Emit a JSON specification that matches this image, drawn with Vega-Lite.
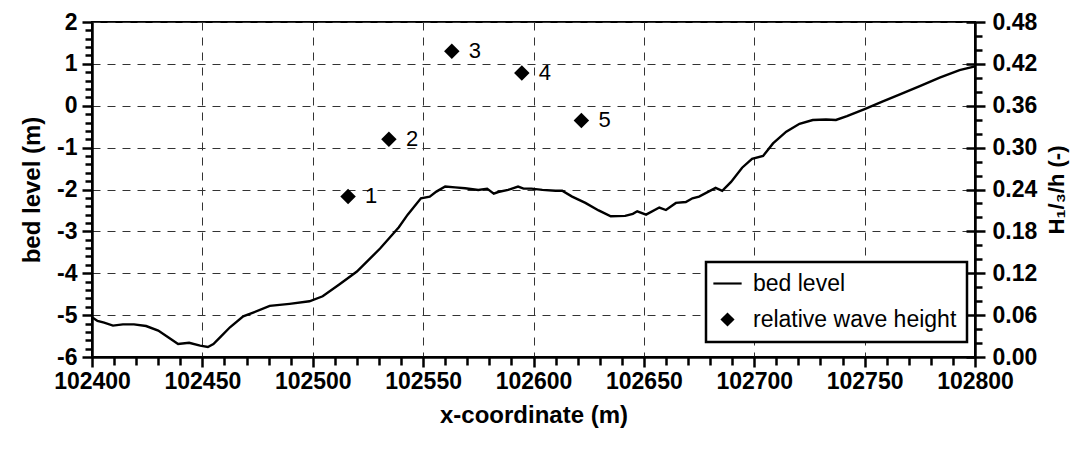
{
  "$schema": "https://vega.github.io/schema/vega-lite/v6.json",
  "width": 883,
  "height": 335,
  "autosize": "none",
  "padding": {"left": 92, "top": 22, "right": 105, "bottom": 96},
  "background": "white",
  "config": {
    "font": "Liberation Sans",
    "view": {"stroke": "black", "strokeWidth": 2},
    "axis": {
      "labelFont": "Liberation Sans",
      "labelFontWeight": "bold",
      "labelFontSize": 23,
      "labelColor": "black",
      "ticks": true,
      "tickColor": "black",
      "tickWidth": 2.5,
      "tickOpacity": 1,
      "domainColor": "black",
      "domainWidth": 2.5,
      "titleFont": "Liberation Sans",
      "titleFontWeight": "bold",
      "titleFontSize": 24,
      "titleColor": "black",
      "gridColor": "#333333",
      "gridDash": [8, 7],
      "gridWidth": 1,
      "labelFlush": false,
      "labelOverlap": false
    },
    "legend": {
      "strokeColor": "black",
      "strokeWidth": 2.5,
      "fillColor": "white",
      "padding": 10
    }
  },
  "datasets": {
    "bed": [
      {"x": 102400, "bed": -5.05},
      {"x": 102402.5, "bed": -5.14},
      {"x": 102405.5, "bed": -5.18},
      {"x": 102409.5, "bed": -5.25},
      {"x": 102414, "bed": -5.22},
      {"x": 102419, "bed": -5.22},
      {"x": 102424.5, "bed": -5.26},
      {"x": 102430, "bed": -5.37},
      {"x": 102434.5, "bed": -5.53},
      {"x": 102439, "bed": -5.69},
      {"x": 102444, "bed": -5.66},
      {"x": 102449, "bed": -5.73},
      {"x": 102452.5, "bed": -5.76},
      {"x": 102455, "bed": -5.69},
      {"x": 102458, "bed": -5.53},
      {"x": 102462.5, "bed": -5.29},
      {"x": 102468.5, "bed": -5.03},
      {"x": 102473, "bed": -4.94},
      {"x": 102480.5, "bed": -4.78},
      {"x": 102489.5, "bed": -4.73},
      {"x": 102498.5, "bed": -4.67},
      {"x": 102504.5, "bed": -4.55},
      {"x": 102512, "bed": -4.27},
      {"x": 102520, "bed": -3.96},
      {"x": 102530.5, "bed": -3.41},
      {"x": 102539, "bed": -2.9},
      {"x": 102543, "bed": -2.6},
      {"x": 102549, "bed": -2.21},
      {"x": 102553, "bed": -2.17},
      {"x": 102556, "bed": -2.05},
      {"x": 102560, "bed": -1.93},
      {"x": 102564.5, "bed": -1.95},
      {"x": 102569, "bed": -1.97},
      {"x": 102575, "bed": -2.01},
      {"x": 102579, "bed": -1.98},
      {"x": 102582, "bed": -2.1},
      {"x": 102584, "bed": -2.06},
      {"x": 102588.5, "bed": -2.01},
      {"x": 102593, "bed": -1.93},
      {"x": 102595.5, "bed": -1.98},
      {"x": 102599, "bed": -1.98},
      {"x": 102604, "bed": -2.01},
      {"x": 102610, "bed": -2.03},
      {"x": 102613, "bed": -2.03},
      {"x": 102617.5, "bed": -2.17},
      {"x": 102623.5, "bed": -2.32},
      {"x": 102629.5, "bed": -2.5},
      {"x": 102635, "bed": -2.64},
      {"x": 102641.5, "bed": -2.63},
      {"x": 102645, "bed": -2.58},
      {"x": 102647, "bed": -2.52},
      {"x": 102651, "bed": -2.6},
      {"x": 102657, "bed": -2.43},
      {"x": 102660, "bed": -2.49},
      {"x": 102664.5, "bed": -2.32},
      {"x": 102669, "bed": -2.3},
      {"x": 102672, "bed": -2.21},
      {"x": 102675, "bed": -2.17},
      {"x": 102682.5, "bed": -1.96},
      {"x": 102685.5, "bed": -2.03},
      {"x": 102689.5, "bed": -1.82},
      {"x": 102694.5, "bed": -1.48},
      {"x": 102699, "bed": -1.27},
      {"x": 102704, "bed": -1.2},
      {"x": 102708.5, "bed": -0.9},
      {"x": 102714.5, "bed": -0.62},
      {"x": 102720.5, "bed": -0.43},
      {"x": 102726.5, "bed": -0.34},
      {"x": 102732.5, "bed": -0.33},
      {"x": 102737, "bed": -0.34},
      {"x": 102742, "bed": -0.25},
      {"x": 102750, "bed": -0.08},
      {"x": 102758, "bed": 0.1},
      {"x": 102766, "bed": 0.27},
      {"x": 102775, "bed": 0.47},
      {"x": 102784, "bed": 0.67},
      {"x": 102793, "bed": 0.85},
      {"x": 102800, "bed": 0.94}
    ],
    "waves": [
      {"x": 102516, "H": 0.23, "label": "1", "series": "relative wave height"},
      {"x": 102534.5, "H": 0.312, "label": "2", "series": "relative wave height"},
      {"x": 102563, "H": 0.438, "label": "3", "series": "relative wave height"},
      {"x": 102594.7, "H": 0.407, "label": "4", "series": "relative wave height"},
      {"x": 102621.7, "H": 0.339, "label": "5", "series": "relative wave height"}
    ]
  },
  "layer": [
    {
      "data": {"name": "bed"},
      "mark": {"type": "line", "color": "black", "strokeWidth": 2.4},
      "encoding": {
        "x": {
          "field": "x", "type": "quantitative",
          "scale": {"domain": [102400, 102800], "nice": false, "zero": false},
          "axis": {
            "orient": "bottom",
            "values": [102400, 102410, 102420, 102430, 102440, 102450, 102460, 102470, 102480, 102490, 102500, 102510, 102520, 102530, 102540, 102550, 102560, 102570, 102580, 102590, 102600, 102610, 102620, 102630, 102640, 102650, 102660, 102670, 102680, 102690, 102700, 102710, 102720, 102730, 102740, 102750, 102760, 102770, 102780, 102790, 102800],
            "labelExpr": "datum.value % 50 === 0 ? '' + datum.value : ''",
            "tickSize": {"condition": {"test": "datum.value % 50 === 0", "value": 10}, "value": 8},
            "gridOpacity": {"condition": {"test": "datum.value % 50 === 0", "value": 1}, "value": 0},
            "labelPadding": 3,
            "grid": true,
            "title": "x-coordinate (m)",
            "titlePadding": 10
          }
        },
        "y": {
          "field": "bed", "type": "quantitative",
          "scale": {"domain": [-6, 2], "nice": false, "zero": false},
          "axis": {
            "orient": "left",
            "values": [-6, -5.8, -5.6, -5.4, -5.2, -5, -4.8, -4.6, -4.4, -4.2, -4, -3.8, -3.6, -3.4, -3.2, -3, -2.8, -2.6, -2.4, -2.2, -2, -1.8, -1.6, -1.4, -1.2, -1, -0.8, -0.6, -0.4, -0.2, 0, 0.2, 0.4, 0.6, 0.8, 1, 1.2, 1.4, 1.6, 1.8, 2],
            "labelExpr": "abs(datum.value - round(datum.value)) < 0.01 ? '' + round(datum.value) : ''",
            "tickSize": {"condition": {"test": "abs(datum.value - round(datum.value)) < 0.01", "value": 10}, "value": 7},
            "gridOpacity": {"condition": {"test": "abs(datum.value - round(datum.value)) < 0.01", "value": 1}, "value": 0},
            "labelPadding": 5,
            "grid": true,
            "title": "bed level (m)",
            "titlePadding": 12
          }
        }
      }
    },
    {
      "data": {"name": "waves"},
      "mark": {"type": "point", "filled": true, "size": 240, "color": "black", "opacity": 1},
      "encoding": {
        "x": {"field": "x", "type": "quantitative", "axis": null},
        "y": {
          "field": "H", "type": "quantitative",
          "scale": {"domain": [0, 0.48], "nice": false, "zero": false},
          "axis": {
            "orient": "right",
            "values": [0, 0.02, 0.04, 0.06, 0.08, 0.1, 0.12, 0.14, 0.16, 0.18, 0.2, 0.22, 0.24, 0.26, 0.28, 0.3, 0.32, 0.34, 0.36, 0.38, 0.4, 0.42, 0.44, 0.46, 0.48],
            "labelExpr": "abs(datum.value / 0.06 - round(datum.value / 0.06)) < 0.01 ? format(datum.value, '.2f') : ''",
            "tickSize": {"condition": {"test": "abs(datum.value / 0.06 - round(datum.value / 0.06)) < 0.01", "value": 10}, "value": 7},
            "labelPadding": 7,
            "grid": false,
            "title": "H₁/₃/h (-)",
            "titleAngle": -90,
            "titleBaseline": "top",
            "titlePadding": 10,
            "titleFontSize": 22
          }
        },
        "shape": {
          "field": "series", "type": "nominal",
          "scale": {
            "domain": ["bed level", "relative wave height"],
            "range": ["M-2,-0.15H2V0.15H-2Z", "diamond"]
          },
          "legend": {
            "orient": "none",
            "legendX": 614,
            "legendY": 240,
            "title": null,
            "labelFont": "Liberation Sans",
            "labelFontSize": 23,
            "labelColor": "black",
            "labelLimit": 0,
            "labelOffset": 14,
            "symbolSize": 200,
            "symbolFillColor": "black",
            "symbolStrokeWidth": 0,
            "symbolOpacity": 1,
            "rowPadding": 12
          }
        }
      }
    },
    {
      "data": {"name": "waves"},
      "mark": {"type": "text", "align": "left", "baseline": "middle", "dx": 17, "fontSize": 22, "font": "Liberation Sans", "color": "black"},
      "encoding": {
        "x": {"field": "x", "type": "quantitative", "axis": null},
        "y": {
          "field": "H", "type": "quantitative",
          "scale": {"domain": [0, 0.48], "nice": false, "zero": false},
          "axis": null
        },
        "text": {"field": "label", "type": "nominal"}
      }
    },
    {
      "data": {"name": "waves"},
      "mark": {"type": "point", "opacity": 0},
      "encoding": {
        "x": {"field": "x", "type": "quantitative", "axis": null},
        "y": {
          "field": "H", "type": "quantitative",
          "scale": {"domain": [0, 0.48], "nice": false, "zero": false},
          "axis": {
            "orient": "right",
            "values": [0, 0.06, 0.12, 0.18, 0.24, 0.3, 0.36, 0.42, 0.48],
            "tickSize": -9,
            "labels": false,
            "domain": false,
            "grid": false,
            "title": null
          }
        }
      }
    }
  ],
  "resolve": {
    "scale": {"y": "independent"},
    "axis": {"x": "independent", "y": "independent"}
  }
}
